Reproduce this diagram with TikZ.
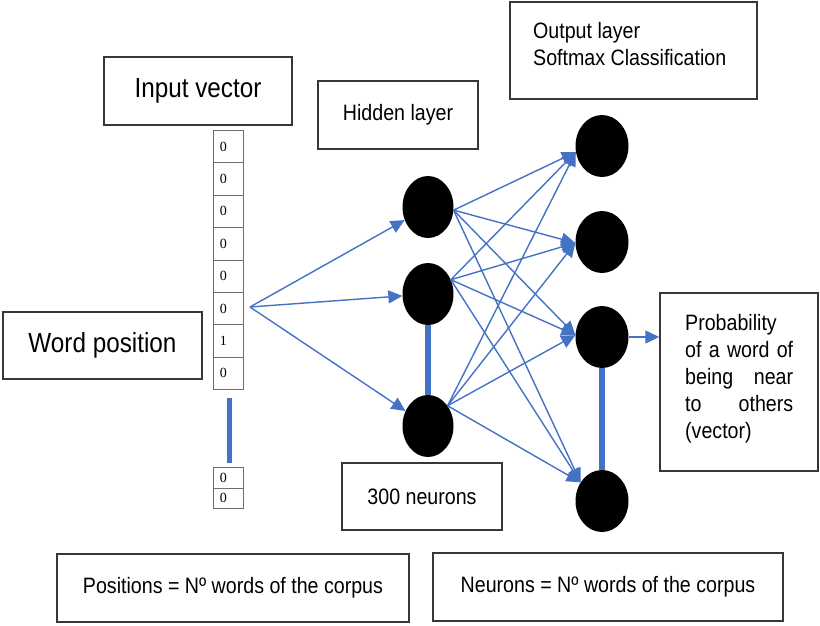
\documentclass[tikz,border=0pt]{standalone}
\usepackage{fontspec}
\setmainfont{Liberation Sans}[FakeStretch=0.88]
\newfontfamily\digitfont{Liberation Serif}
\usetikzlibrary{arrows.meta,shapes.geometric}
\definecolor{nnblue}{RGB}{68,114,196}
\definecolor{boxgray}{RGB}{55,55,55}
\definecolor{cellgray}{RGB}{110,110,110}
\begin{document}
\begin{tikzpicture}[x=1pt,y=-1pt,
  box/.style={draw=boxgray,line width=1.5pt,rectangle,inner sep=0pt},
  bigtext/.style={font=\fontsize{27.6}{33}\selectfont},
  smalltext/.style={font=\fontsize{22.3}{27}\selectfont},
  cell/.style={draw=cellgray,line width=0.8pt,rectangle,minimum height=32.4pt,
    text width=17pt,inner xsep=6.5pt,inner ysep=0pt,align=left,
    font=\digitfont\fontsize{14}{14}\selectfont,anchor=north west},
  neuron/.style={ellipse,fill=black,draw=none,inner sep=0pt,
    minimum width=51pt,minimum height=62pt},
  conn/.style={draw=nnblue,line width=1.4pt,-{Triangle[length=14pt,width=13pt]}},
  bar/.style={draw=nnblue,line width=6pt}
]
\fill[white] (0,0) rectangle (820,625);
\useasboundingbox (0,0) rectangle (820,625);

% text boxes
\node[box,minimum width=188pt,minimum height=68pt,bigtext] (iv) at (198,91) {Input vector};
\node[box,minimum width=160pt,minimum height=68pt,smalltext] (hl) at (398,115) {Hidden layer};
\node[box,minimum width=247pt,minimum height=97pt] (ol) at (633.5,50.5) {};
\node[smalltext,align=left,anchor=north west,inner sep=0pt] (oltext) at (533,22) {Output layer\\Softmax Classification};
\node[box,minimum width=199pt,minimum height=67pt,bigtext] (wp) at (102.5,345.5) {Word position};
\node[box,minimum width=158pt,minimum height=178pt] (pr) at (739,382) {};
\node[smalltext,align=left,anchor=north west,inner sep=0pt] (prtext) at (685,314)
  {Probability\\\makebox[108pt][s]{of a word of}\\\makebox[108pt][s]{being near}\\\makebox[108pt][s]{to others}\\(vector)};
\node[box,minimum width=160pt,minimum height=67pt,smalltext] (n300) at (422,496.5) {300 neurons};
\node[box,minimum width=352pt,minimum height=68pt,smalltext] (pos) at (233,588) {Positions = Nº words of the corpus};
\node[box,minimum width=350pt,minimum height=68pt,smalltext] (neu) at (608,587) {Neurons = Nº words of the corpus};

% input vector cells
\foreach \d [count=\i from 0] in {0,0,0,0,0,0,1,0}
  \node[cell] (c\i) at (213,130+32.4*\i) {\d};
\node[cell,minimum height=20.5pt] (cb1) at (213,467) {0};
\node[cell,minimum height=20.5pt] (cb2) at (213,487.5) {0};
\coordinate (vbtop) at (229,398);
\coordinate (vbbot) at (229,463);
\draw[nnblue,line width=5pt] (vbtop) -- (vbbot);

% neurons
\node[neuron] (h1) at (428,207) {};
\node[neuron] (h2) at (428,294) {};
\node[neuron] (h3) at (428,426) {};
\node[neuron,minimum width=53pt] (o1) at (602,146) {};
\node[neuron,minimum width=53pt] (o2) at (602,242) {};
\node[neuron,minimum width=53pt] (o3) at (602,337) {};
\node[neuron,minimum width=53pt] (o4) at (602,501) {};

% connectors
\coordinate (src) at (250,307);
\foreach \h in {h1,h2,h3} \draw[conn] (src) -- (\h);
\foreach \h/\a in {h1/-7,h2/32,h3/46}
  \foreach \o/\b in {o1/193,o2/182,o3/176,o4/139}
    \draw[conn] (\h.\a) -- (\o.\b);
\draw[bar] (h2.south) -- (h3.north);
\draw[bar] (o3.south) -- (o4.north);
\draw[conn] (o3.east) -- (o3.east -| pr.west);
\end{tikzpicture}
\end{document}
